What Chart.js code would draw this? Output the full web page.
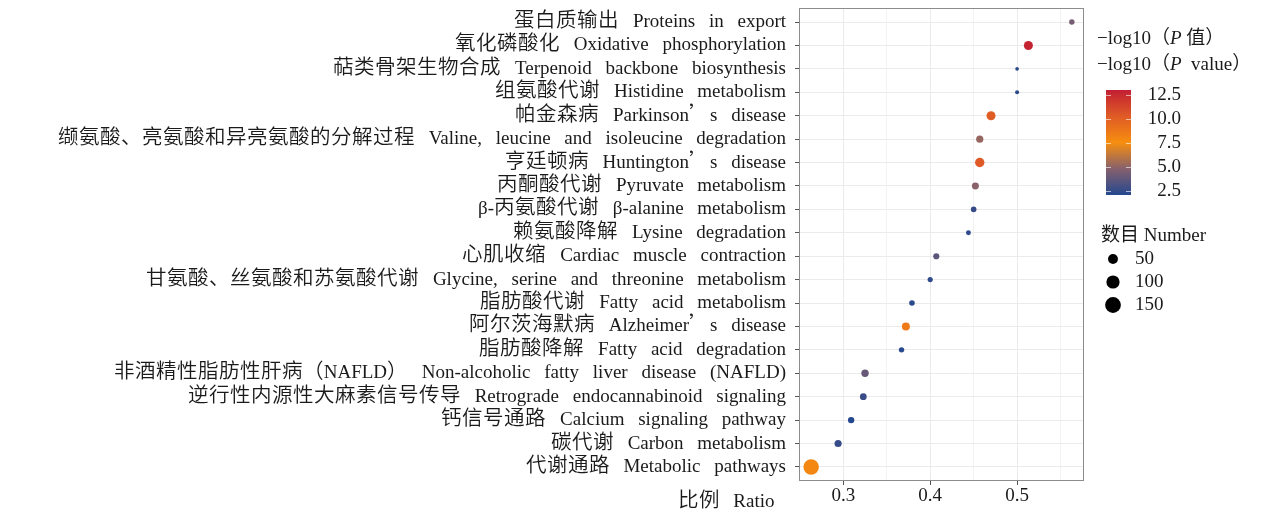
<!DOCTYPE html>
<html>
<head>
<meta charset="utf-8">
<script src="https://cdn.jsdelivr.net/npm/chart.js@4.4.0/dist/chart.umd.min.js"></script>
<style>
  @font-face {
    font-family: 'CJKWide';
    src: local('Noto Sans CJK SC DemiLight'), local('NotoSansCJKsc-DemiLight'),
         local('Noto Sans CJK SC Light'), local('NotoSansCJKsc-Light'),
         local('Noto Sans CJK SC'), local('NotoSansCJKsc-Regular'), local('Noto Sans CJK SC Regular');
    size-adjust: 108%;
    unicode-range: U+2019, U+3000-303F, U+4E00-9FFF, U+FF00-FFEF;
  }
  html, body { margin: 0; padding: 0; background: #fff; }
  #wrap { width: 1268px; height: 513px; }
</style>
</head>
<body>
<div id="wrap"><canvas id="dotChart" width="1268" height="513"></canvas></div>
<script>
// KEGG pathways, top to bottom as in the figure
const pathways = [
    '蛋白质输出 Proteins in export',
    '氧化磷酸化 Oxidative phosphorylation',
    '萜类骨架生物合成 Terpenoid backbone biosynthesis',
    '组氨酸代谢 Histidine metabolism',
    '帕金森病 Parkinson’s disease',
    '缬氨酸、亮氨酸和异亮氨酸的分解过程 Valine, leucine and isoleucine degradation',
    '亨廷顿病 Huntington’s disease',
    '丙酮酸代谢 Pyruvate metabolism',
    'β-丙氨酸代谢 β-alanine metabolism',
    '赖氨酸降解 Lysine degradation',
    '心肌收缩 Cardiac muscle contraction',
    '甘氨酸、丝氨酸和苏氨酸代谢 Glycine, serine and threonine metabolism',
    '脂肪酸代谢 Fatty acid metabolism',
    '阿尔茨海默病 Alzheimer’s disease',
    '脂肪酸降解 Fatty acid degradation',
    '非酒精性脂肪性肝病（NAFLD） Non-alcoholic fatty liver disease (NAFLD)',
    '逆行性内源性大麻素信号传导 Retrograde endocannabinoid signaling',
    '钙信号通路 Calcium signaling pathway',
    '碳代谢 Carbon metabolism',
    '代谢通路 Metabolic pathways'
];
const ratio = [0.563, 0.513, 0.500, 0.500, 0.470, 0.457, 0.457, 0.452, 0.450, 0.444,
               0.407, 0.400, 0.379, 0.372, 0.367, 0.325, 0.323, 0.309, 0.294, 0.263];
const logP = [4.4, 12.8, 2.3, 2.3, 10.2, 5.2, 10.3, 4.9, 2.6, 2.4,
              3.7, 2.4, 2.3, 8.6, 2.2, 4.0, 2.7, 2.1, 2.6, 7.9];
const counts = [16, 54, 4, 6, 54, 32, 59, 30, 17, 12,
                22, 14, 17, 41, 16, 34, 28, 24, 32, 170];

const xTickLabels = [0.3, 0.4, 0.5];
const xGridLines = [0.3, 0.35, 0.4, 0.45, 0.5, 0.55];
const colorTicks = [2.5, 5.0, 7.5, 10.0, 12.5];
const sizeTicks = [50, 100, 150];

const serif = "'CJKWide', 'Liberation Serif', 'Noto Sans CJK SC', serif";
const plainSerif = "'Liberation Serif', 'Noto Sans CJK SC', serif";
const textColor = '#1a1a1a';
const fontSize = 19;

// colour scale: blue -> mauve -> orange -> red
const cMin = 2.1, cMax = 13.0;
const colorStops = [
    [2.1, [36, 72, 143]],
    [4.8, [133, 96, 110]],
    [7.55, [247, 142, 15]],
    [10.3, [223, 90, 38]],
    [13.0, [194, 31, 51]]
];

function colorOf(v) {
    v = Math.max(cMin, Math.min(cMax, v));
    for (let i = 0; i < colorStops.length - 1; i++) {
        let a = colorStops[i], b = colorStops[i + 1];
        if (v <= b[0]) {
            let t = (v - a[0]) / (b[0] - a[0]);
            let c = a[1].map((x, k) => Math.round(x + (b[1][k] - x) * t));
            return 'rgb(' + c.join(',') + ')';
        }
    }
    return 'rgb(' + colorStops[colorStops.length - 1][1].join(',') + ')';
}

function sizeOf(n) {
    return Math.sqrt(2 + 0.34 * n);
}

let points = [], colors = [];
for (let i = 0; i < pathways.length; i++) {
    points.push({ x: ratio[i], y: i, r: sizeOf(counts[i]) });
    colors.push(colorOf(logP[i]));
}

// panel border, x title and the two legends
const extrasPlugin = {
    id: 'extras',
    beforeDraw(chart) {
        chart.ctx.wordSpacing = '9px';
    },
    afterDraw(chart) {
        const ctx = chart.ctx;
        const area = chart.chartArea;
        ctx.save();
        ctx.wordSpacing = '0px';
        ctx.strokeStyle = '#8c8c8c';
        ctx.lineWidth = 1;
        ctx.strokeRect(area.left + 0.5, area.top + 0.5, area.right - area.left - 1, area.bottom - area.top - 1);

        ctx.fillStyle = textColor;
        ctx.textBaseline = 'middle';
        ctx.font = fontSize + 'px ' + serif;
        ctx.textAlign = 'center';
        ctx.wordSpacing = '9px';
        ctx.fillText('比例 Ratio', 726, 502);
        ctx.wordSpacing = '0px';

        // colour legend title
        ctx.textAlign = 'left';
        let x = 1097;
        const titleLine = (y, parts) => {
            let cx = x;
            parts.forEach(p => {
                ctx.font = (p[1] ? 'italic ' : '') + fontSize + 'px ' + plainSerif;
                ctx.fillText(p[0], cx, y);
                cx += ctx.measureText(p[0]).width;
            });
        };
        titleLine(39, [['−log10（', false], ['P', true], [' 值）', false]]);
        titleLine(65, [['−log10（', false], ['P', true], ['  value）', false]]);

        // colour bar
        const barL = 1106, barR = 1131, barT = 90, barB = 195;
        const yOf = v => barB - (v - cMin) / (cMax - cMin) * (barB - barT);
        let grad = ctx.createLinearGradient(0, barB, 0, barT);
        for (let k = 0; k <= 40; k++) {
            let v = cMin + (cMax - cMin) * k / 40;
            grad.addColorStop(k / 40, colorOf(v));
        }
        ctx.fillStyle = grad;
        ctx.fillRect(barL, barT, barR - barL, barB - barT);
        ctx.strokeStyle = 'rgba(255,255,255,0.6)';
        ctx.fillStyle = textColor;
        ctx.font = fontSize + 'px ' + plainSerif;
        ctx.textAlign = 'right';
        colorTicks.forEach(v => {
            let y = Math.round(yOf(v)) + 0.5;
            ctx.beginPath();
            ctx.moveTo(barL, y); ctx.lineTo(barL + 5, y);
            ctx.moveTo(barR - 5, y); ctx.lineTo(barR, y);
            ctx.stroke();
            ctx.fillText(v.toFixed(1), 1181, yOf(v));
        });

        // size legend
        ctx.textAlign = 'left';
        ctx.fillText('数目 Number', 1101, 236);
        sizeTicks.forEach((n, k) => {
            let y = 259 + k * 23;
            ctx.beginPath();
            ctx.fillStyle = '#000';
            ctx.arc(1113, y, sizeOf(n) + 0.6, 0, Math.PI * 2);
            ctx.fill();
            ctx.fillStyle = textColor;
            ctx.fillText(String(n), 1135, y);
        });
        ctx.restore();
    }
};

const isMajor = (v) => xTickLabels.some(t => Math.abs(t - v) < 1e-9);

const config = {
    type: 'bubble',
    data: {
        datasets: [{
            data: points,
            backgroundColor: colors,
            borderWidth: 0,
            hoverRadius: 0
        }]
    },
    options: {
        responsive: false,
        animation: false,
        devicePixelRatio: 1,
        events: [],
        layout: { padding: { top: 8, right: 184, bottom: 0, left: 0 } },
        plugins: { legend: { display: false }, tooltip: { enabled: false } },
        scales: {
            x: {
                type: 'linear',
                min: 0.249,
                max: 0.577,
                afterBuildTicks: (scale) => {
                    scale.ticks = xGridLines.map(v => ({ value: v }));
                },
                afterFit: (scale) => {
                    scale.height = 32;
                    scale.paddingLeft = 0;
                    scale.paddingRight = 0;
                },
                border: { display: false },
                grid: {
                    color: (c) => isMajor(c.tick.value) ? '#ebebeb' : '#f3f3f3',
                    tickColor: (c) => isMajor(c.tick.value) ? '#555' : 'rgba(0,0,0,0)',
                    tickLength: 4,
                    lineWidth: 1
                },
                ticks: {
                    autoSkip: false,
                    maxRotation: 0,
                    padding: 0,
                    color: textColor,
                    font: { family: plainSerif, size: fontSize },
                    callback: (value) => {
                        let m = xTickLabels.find(v => Math.abs(v - value) < 1e-9);
                        return m === undefined ? '' : m.toFixed(1);
                    }
                }
            },
            y: {
                type: 'linear',
                reverse: true,
                min: -0.6,
                max: pathways.length - 0.4,
                afterBuildTicks: (scale) => {
                    scale.ticks = pathways.map((p, i) => ({ value: i }));
                },
                afterFit: (scale) => {
                    scale.width = 799;
                    scale.paddingTop = 0;
                    scale.paddingBottom = 0;
                },
                border: { display: false },
                grid: {
                    color: '#ebebeb',
                    tickColor: '#555',
                    tickLength: 4,
                    lineWidth: 1
                },
                ticks: {
                    autoSkip: false,
                    padding: 9,
                    color: textColor,
                    font: { family: serif, size: fontSize },
                    callback: (value) => pathways[value] || ''
                }
            }
        }
    },
    plugins: [extrasPlugin]
};

function makeChart() {
    return new Chart(document.getElementById('dotChart'), config);
}

let dotChart;
document.fonts.load(fontSize + "px 'CJKWide'", '蛋’')
    .catch(() => null)
    .then(() => { dotChart = makeChart(); });
</script>
</body>
</html>
